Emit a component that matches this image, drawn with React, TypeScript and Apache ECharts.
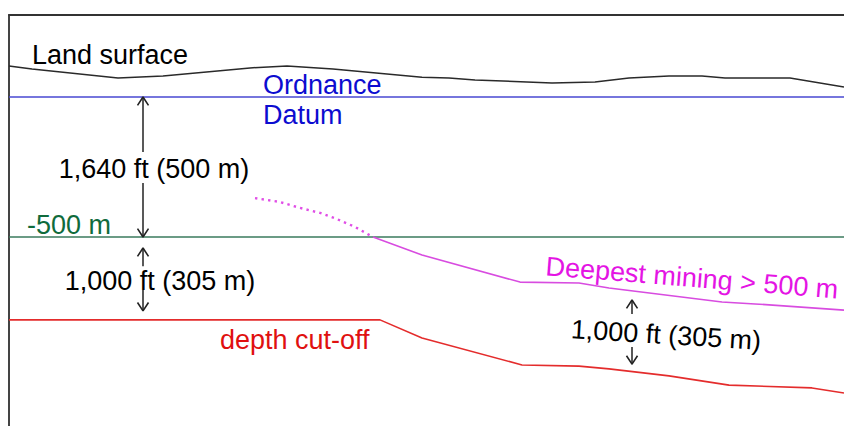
import React, { useEffect, useRef } from "react";
import * as echarts from "echarts";

// Horizontal distance (arbitrary units) and elevation relative to Ordnance Datum (m)
const landX = [0, 23, 109, 154, 241, 278, 324, 413, 440, 466, 543, 586, 620, 660, 693, 716, 781, 835];
const landY = [111, 100, 68, 75, 104, 111, 100, 71, 68, 61, 50, 54, 68, 75, 75, 68, 68, 36];

const datumX = [0, 835];
const datumY = [0, 0];

const minus500X = [0, 835];
const minus500Y = [-500, -500];

const cutoffX = [0, 371, 413, 513, 570, 600, 660, 720, 803, 835];
const cutoffY = [-796, -796, -861, -957, -961, -971, -996, -1029, -1039, -1057];

const miningX = [364, 413, 511, 570, 600, 713, 746, 835];
const miningY = [-500, -564, -661, -664, -682, -732, -739, -761];

const miningDotX = [246, 271, 291, 311, 328, 346, 364];
const miningDotY = [-361, -375, -396, -414, -436, -464, -500];

// Dimension arrows: x, up-arrow tip, up-arrow shaft end, down-arrow shaft start, down-arrow tip
const arrowXs = [134, 134, 623];
const arrowUpTip = [0, -539, -725];
const arrowUpEnd = [-196, -604, -775];
const arrowDownStart = [-307, -689, -893];
const arrowDownTip = [-500, -764, -954];

// Labels
const labelTexts = [
  "Land surface",
  "Ordnance",
  "Datum",
  "1,640 ft (500 m)",
  "-500 m",
  "1,000 ft (305 m)",
  "depth cut-off",
  "Deepest mining > 500 m",
  "1,000 ft (305 m)",
];
const labelX = [23, 254, 254, 145, 18, 151, 211, 683, 657];
const labelY = [150, 43, -64, -257, -457, -657, -868, -646, -850];
const labelColors = ["#000000", "#0c0cd0", "#0c0cd0", "#000000", "#106b3c", "#000000", "#e01010", "#e414e4", "#000000"];
const labelAlign = ["left", "left", "left", "center", "left", "center", "left", "center", "center"];
const labelRotate = [0, 0, 0, 0, 0, 0, 0, -4.6, -3.5];

const FONT = "'Liberation Sans', Arial, sans-serif";

function zip(xs: number[], ys: number[]) {
  return xs.map((x, i) => [x, ys[i]]);
}

function lineSeries(data: number[][], color: string, width = 1.5, type: any = "solid") {
  return {
    type: "line",
    data,
    symbol: "none",
    silent: true,
    lineStyle: { color, width, type },
    z: 2,
  };
}

export default function App() {
  const ref = useRef<HTMLDivElement>(null);

  useEffect(() => {
    if (!ref.current) return;
    const chart = echarts.init(ref.current, null, { renderer: "svg" });

    const arrowSeries: any[] = [];
    const chevW = 5.5;
    const chevH = 30;
    arrowXs.forEach((x, i) => {
      const upTip = arrowUpTip[i];
      const downTip = arrowDownTip[i];
      arrowSeries.push(lineSeries([[x, upTip], [x, arrowUpEnd[i]]], "#222", 1.5));
      arrowSeries.push(lineSeries([[x, arrowDownStart[i]], [x, downTip]], "#222", 1.5));
      arrowSeries.push(lineSeries([[x - chevW, upTip - chevH], [x, upTip], [x + chevW, upTip - chevH]], "#222", 1.6));
      arrowSeries.push(lineSeries([[x - chevW, downTip + chevH], [x, downTip], [x + chevW, downTip + chevH]], "#222", 1.6));
    });

    const labelData = labelTexts.map((t, i) => ({
      name: t,
      value: [labelX[i], labelY[i]],
      label: {
        show: true,
        formatter: t,
        position: labelAlign[i] === "left" ? "right" : "inside",
        distance: 0,
        color: labelColors[i],
        fontSize: 27,
        fontFamily: FONT,
        rotate: labelRotate[i],
        textBorderWidth: 0,
      },
    }));

    chart.setOption({
      animation: false,
      grid: { left: 9, top: 15, right: 0, bottom: 0, containLabel: false },
      xAxis: {
        type: "value",
        min: 0,
        max: 835,
        position: "top",
        axisLine: { show: true, onZero: false, lineStyle: { color: "#333", width: 2 } },
        axisTick: { show: false },
        axisLabel: { show: false },
        splitLine: { show: false },
      },
      yAxis: {
        type: "value",
        min: -1175,
        max: 293,
        axisLine: { show: true, onZero: false, lineStyle: { color: "#444", width: 2 } },
        axisTick: { show: false },
        axisLabel: { show: false },
        splitLine: { show: false },
      },
      series: [
        lineSeries(zip(landX, landY), "#2a2a2a", 1.5),
        lineSeries(zip(datumX, datumY), "#4848d2", 1.6),
        lineSeries(zip(minus500X, minus500Y), "#3a7a5c", 1.6),
        lineSeries(zip(cutoffX, cutoffY), "#e42c2c", 1.6),
        lineSeries(zip(miningX, miningY), "#d84ce0", 1.6),
        lineSeries(zip(miningDotX, miningDotY), "#e04ee6", 2.4, [2.4, 4.2]),
        ...arrowSeries,
        {
          type: "scatter",
          data: labelData,
          symbolSize: 0,
          silent: true,
          itemStyle: { opacity: 1 },
          z: 5,
        },
      ],
    });

    return () => chart.dispose();
  }, []);

  return (
    <div
      ref={ref}
      style={{ position: "fixed", left: 0, top: 0, width: 844, height: 426, background: "#fff" }}
    />
  );
}
